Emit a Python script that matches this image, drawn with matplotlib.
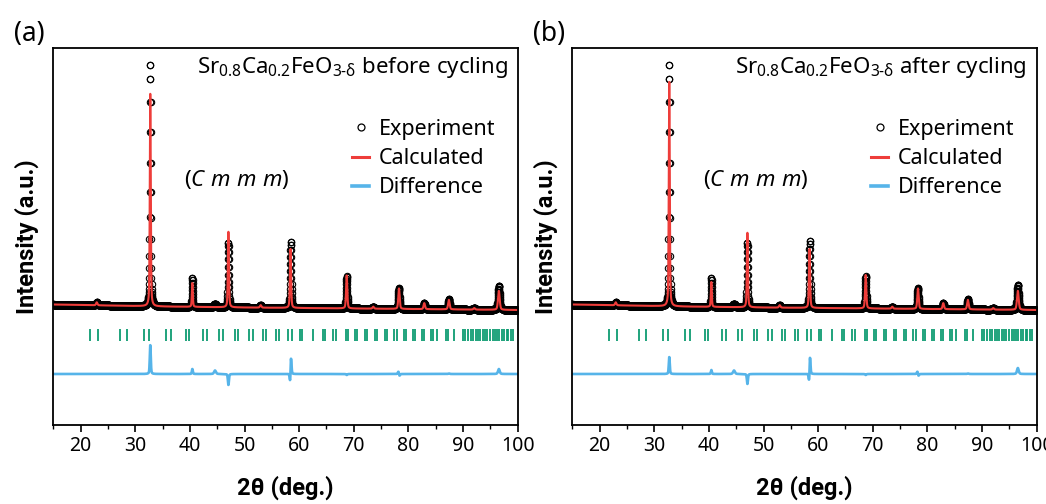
import numpy as np
import matplotlib
matplotlib.use("Agg")
import matplotlib.pyplot as plt
from matplotlib.ticker import MultipleLocator, NullLocator
from matplotlib.lines import Line2D

plt.rcParams['font.family'] = ['Noto Sans', 'DejaVu Sans']
plt.rcParams['mathtext.fontset'] = 'custom'
plt.rcParams['mathtext.rm'] = 'Noto Sans'
plt.rcParams['mathtext.it'] = 'Noto Sans:italic'
plt.rcParams['mathtext.bf'] = 'Noto Sans:bold'

# ---------------- data ----------------
scan_start, scan_stop, scan_step = 15.0, 100.0, 0.02

peak_pos = [22.95, 32.75, 40.45, 44.60, 47.05, 52.95, 58.45, 68.70, 73.55, 78.25, 82.90, 87.40, 92.05, 96.55]
peak_fwhm = [0.30, 0.21, 0.20, 0.40, 0.22, 0.30, 0.24, 0.26, 0.30, 0.29, 0.30, 0.32, 0.35, 0.36]
obs_a = [300, 24300, 2900, 350, 6500, 250, 6600, 3200, 200, 2100, 600, 1000, 150, 2400]
calc_a = [300, 21400, 2400, 0, 7600, 250, 5900, 3300, 200, 2050, 600, 950, 150, 1900]
obs_b = [300, 24300, 2900, 350, 6500, 250, 6700, 3250, 200, 2100, 600, 1000, 150, 2500]
calc_b = [300, 22600, 2500, 0, 7500, 250, 5900, 3350, 200, 2050, 600, 950, 150, 1900]
calc_shift = [0, 0, 0, 0, 0, 0, -0.03, 0, 0, 0.02, 0, 0, 0, 0]

bg_2theta = [15, 25, 35, 50, 70, 100]
bg_level = [-50, -150, -250, -350, -450, -600]

bragg_2theta = [21.72, 23.24, 27.20, 28.43, 31.60, 32.57, 35.63, 36.49, 39.29, 39.89,
                42.34, 43.07, 45.38, 46.11, 48.25, 48.86, 50.82, 51.49, 53.32, 53.87,
                55.76, 56.36, 58.01, 58.63, 60.15, 60.46, 62.58, 64.41, 64.72, 66.24,
                66.74, 68.57, 68.99, 70.22, 70.64, 72.05, 72.47, 73.87, 74.30, 75.71,
                76.13, 77.35, 77.96, 79.18, 79.55, 80.77, 81.20, 82.42, 82.84, 84.07,
                84.55, 85.28, 86.87, 87.29, 88.33, 90.04, 90.35, 90.95, 91.39, 91.87,
                92.36, 92.78, 93.09, 93.59, 94.01, 94.32, 94.92, 95.42, 95.84, 96.15,
                96.62, 97.06, 97.48, 97.97, 98.27, 98.72, 99.19]

diff_offset = -7000
tick_low, tick_high = -3700, -2500

titles = [r"Sr$_{0.8}$Ca$_{0.2}$FeO$_{3\text{-}\mathrm{δ}}$ before cycling",
          r"Sr$_{0.8}$Ca$_{0.2}$FeO$_{3\text{-}\mathrm{δ}}$ after cycling"]
panel_labels = ["(a)", "(b)"]
space_group = r"($\mathit{C\ m\ m\ m}$)"

C_RED = '#EE3D3A'
C_BLUE = '#56B4E9'
C_GREEN = '#0E9C72'
BOLD_FAMILY = ['Roboto', 'DejaVu Sans']


def pattern(x, heights, shifts):
    y = np.interp(x, bg_2theta, bg_level)
    for p, w, h, s in zip(peak_pos, peak_fwhm, heights, shifts):
        d = (x - (p + s)) / w
        g = np.exp(-4 * np.log(2) * d ** 2)
        l = 1.0 / (1 + 4 * d ** 2)
        y = y + h * (0.6 * g + 0.4 * l)
    return y


x = np.arange(scan_start, scan_stop + scan_step / 2, scan_step)
zero = [0] * len(peak_pos)

fig = plt.figure(figsize=(10.46, 5.04), dpi=100)
W, H = 1046, 504
axes_px = [(53.3, 517.7), (572.3, 1036.7)]
top_px, bot_px = 48, 425

for i, (obs_h, calc_h) in enumerate([(obs_a, calc_a), (obs_b, calc_b)]):
    l, r = axes_px[i]
    ax = fig.add_axes([l / W, 1 - bot_px / H, (r - l) / W, (bot_px - top_px) / H])
    yo = pattern(x, obs_h, zero)
    yc = pattern(x, calc_h, calc_shift)
    ax.plot(x, yo, linestyle='none', marker='o', ms=4.6, mfc='none', mec='black', mew=0.8)
    ax.plot(x, yc, color=C_RED, lw=1.5)
    ax.plot(x, yo - yc + diff_offset, color=C_BLUE, lw=1.9)
    ax.vlines(bragg_2theta, tick_low, tick_high, color=C_GREEN, lw=1.3)

    ax.set_xlim(15, 100)
    ax.set_ylim(-12100, 25600)
    ax.xaxis.set_major_locator(MultipleLocator(10))
    ax.xaxis.set_minor_locator(MultipleLocator(5))
    ax.yaxis.set_major_locator(NullLocator())
    ax.tick_params(axis='x', which='major', direction='out', length=5, width=1.2, labelsize=14, pad=3)
    ax.tick_params(axis='x', which='minor', direction='out', length=3, width=1.0)
    for sp in ax.spines.values():
        sp.set_linewidth(1.3)

    ax.set_xlabel("2θ (deg.)", fontsize=17, fontweight='bold', family=BOLD_FAMILY)
    ax.xaxis.set_label_coords(0.5, -0.135)
    ax.set_ylabel("Intensity (a.u.)", fontsize=17, fontweight='bold', family=BOLD_FAMILY)
    ax.yaxis.set_label_coords(-0.03, 0.5)

    ax.text(0.979, 0.947, titles[i], transform=ax.transAxes, ha='right', va='center', fontsize=16)
    ax.text(0.3956, 0.65, space_group, transform=ax.transAxes, ha='center', va='center', fontsize=16)
    fig.text((l - 39) / W, 1 - 34 / H, panel_labels[i], ha='left', va='center', fontsize=19)

    handles = [Line2D([], [], linestyle='none', marker='o', ms=5, mfc='none', mec='black', mew=0.9),
               Line2D([], [], color=C_RED, lw=2.2),
               Line2D([], [], color=C_BLUE, lw=2.6)]
    leg = ax.legend(handles, ["Experiment", "Calculated", "Difference"], loc='upper left',
                    bbox_to_anchor=((352 - 53.3) / 464.4, (425 - 119) / 377), frameon=False,
                    fontsize=15.5, handlelength=0.8, handletextpad=0.45, labelspacing=0.38,
                    borderpad=0, borderaxespad=0)

fig.savefig("out.png", dpi=100)
